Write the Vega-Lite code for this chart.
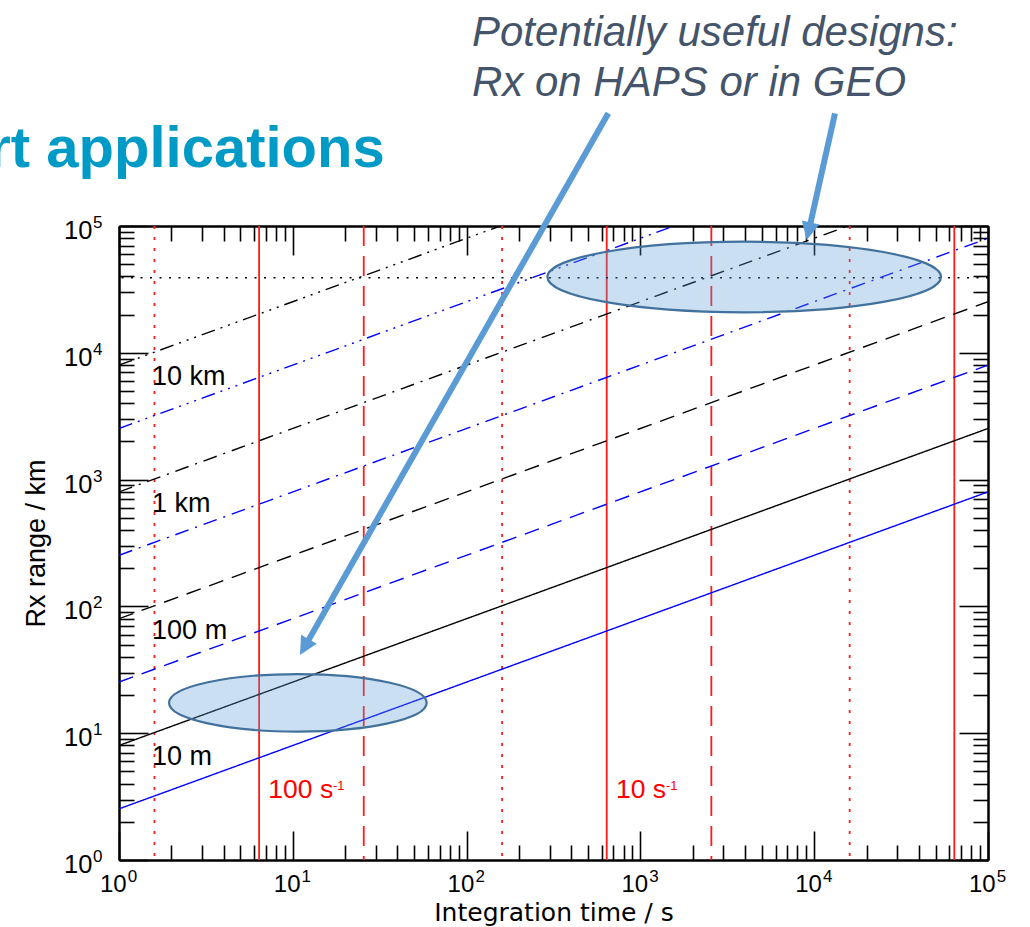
{
  "$schema": "https://vega.github.io/schema/vega-lite/v6.json",
  "width": 869,
  "height": 634,
  "autosize": {"type": "none"},
  "padding": {"left": 119, "top": 226, "right": 42, "bottom": 67},
  "background": "white",
  "config": {
    "view": {"stroke": null},
    "font": "Liberation Sans",
    "axis": {
      "labels": false,
      "grid": false,
      "domainColor": "#000000",
      "domainWidth": 2,
      "tickColor": "#000000",
      "tickWidth": 1.6,
      "minExtent": 0,
      "titleFont": "Liberation Sans",
      "titleFontSize": 27,
      "titleFontWeight": "normal",
      "titleColor": "#000000",
      "titleBaseline": "alphabetic"
    }
  },
  "resolve": {
    "axis": {"x": "independent", "y": "independent"},
    "scale": {"strokeDash": "independent"}
  },
  "datasets": {
    "rateMarks": [
      {"t": 1.6, "style": "dotted"},
      {"t": 6.4, "style": "solid"},
      {"t": 25.6, "style": "dashed"},
      {"t": 160, "style": "dotted"},
      {"t": 640, "style": "solid"},
      {"t": 2560, "style": "dashed"},
      {"t": 16000, "style": "dotted"},
      {"t": 64000, "style": "solid"}
    ],
    "geo": [{"r": 39000}],
    "rangeLines": [
      {"series": "10 m", "colour": "black", "style": "solid", "t": 1, "r": 8},
      {"series": "10 m", "colour": "black", "style": "solid", "t": 100000, "r": 2530},
      {"series": "10 m (blue)", "colour": "blue", "style": "solid", "t": 1, "r": 2.53},
      {"series": "10 m (blue)", "colour": "blue", "style": "solid", "t": 100000, "r": 800},
      {"series": "100 m", "colour": "black", "style": "dashed", "t": 1, "r": 80},
      {"series": "100 m", "colour": "black", "style": "dashed", "t": 100000, "r": 25300},
      {"series": "100 m (blue)", "colour": "blue", "style": "dashed", "t": 1, "r": 25.3},
      {"series": "100 m (blue)", "colour": "blue", "style": "dashed", "t": 100000, "r": 8000},
      {"series": "1 km", "colour": "black", "style": "dashdot", "t": 1, "r": 800},
      {"series": "1 km", "colour": "black", "style": "dashdot", "t": 15625, "r": 100000},
      {"series": "1 km (blue)", "colour": "blue", "style": "dashdot", "t": 1, "r": 253},
      {"series": "1 km (blue)", "colour": "blue", "style": "dashdot", "t": 100000, "r": 80000},
      {"series": "10 km", "colour": "black", "style": "dash3dot", "t": 1, "r": 8000},
      {"series": "10 km", "colour": "black", "style": "dash3dot", "t": 156.25, "r": 100000},
      {"series": "10 km (blue)", "colour": "blue", "style": "dash3dot", "t": 1, "r": 2530},
      {"series": "10 km (blue)", "colour": "blue", "style": "dash3dot", "t": 1562.5, "r": 100000}
    ],
    "lineLabels": [
      {"label": "10 km", "t": 1.55, "r": 5570},
      {"label": "1 km", "t": 1.55, "r": 557},
      {"label": "100 m", "t": 1.55, "r": 55.7},
      {"label": "10 m", "t": 1.55, "r": 5.57}
    ],
    "rateLabels": [
      {"label": "100 s", "t": 7.23, "r": 3.07},
      {"label": "10 s", "t": 724, "r": 3.07}
    ],
    "rateExponents": [
      {"label": "-1", "t": 17.03, "r": 3.57},
      {"label": "-1", "t": 1404, "r": 3.57}
    ],
    "haps": [{"t": 10.69, "r": 17.36}],
    "geoZone": [{"t": 3956, "r": 39620}],
    "arrowShafts": [
      {"t": 653.6, "r": 774300, "t2": 11.9, "r2": 49.96},
      {"t": 13170, "r": 774300, "t2": 9371, "r2": 95920}
    ],
    "arrowTipHaps": [{"t": 11.0, "r": 41.4}],
    "arrowTipGeo": [{"t": 9054, "r": 77550}],
    "decades": [
      {"p": 1, "e": "0"},
      {"p": 10, "e": "1"},
      {"p": 100, "e": "2"},
      {"p": 1000, "e": "3"},
      {"p": 10000, "e": "4"},
      {"p": 100000, "e": "5"}
    ],
    "note": [{"label": "Potentially useful designs:\nRx on HAPS or in GEO", "t": 107.4, "r": 2627000}],
    "heading": [{"label": "rt applications", "t": 0.177, "r": 292000}]
  },
  "layer": [
    {
      "data": {"name": "rateMarks"},
      "mark": {"type": "rule", "color": "#ff1a1a", "strokeWidth": 1.8, "clip": true},
      "encoding": {
        "x": {
          "field": "t", "type": "quantitative",
          "scale": {"type": "log", "domain": [1, 100000], "nice": false},
          "axis": {"orient": "bottom", "values": [1, 10, 100, 1000, 10000, 100000], "tickSize": -29, "title": "Integration time / s", "titleFont": "DejaVu Sans", "titleFontSize": 25, "titlePadding": 59.5}
        },
        "strokeDash": {
          "field": "style", "type": "nominal",
          "scale": {"domain": ["solid", "dashed", "dotted"], "range": [[1, 0], [20, 10], [3, 8]]},
          "legend": null
        }
      }
    },
    {
      "data": {"name": "geo"},
      "mark": {"type": "rule", "color": "#000000", "strokeWidth": 1.5, "strokeDash": [2, 7.5], "clip": true},
      "encoding": {
        "y": {
          "field": "r", "type": "quantitative",
          "scale": {"type": "log", "domain": [1, 100000], "nice": false},
          "axis": {"orient": "left", "values": [1, 10, 100, 1000, 10000, 100000], "tickSize": -29, "title": "Rx range / km", "titlePadding": 74}
        }
      }
    },
    {
      "data": {"name": "rangeLines"},
      "mark": {"type": "line", "strokeWidth": 1.4, "clip": true},
      "encoding": {
        "x": {
          "field": "t", "type": "quantitative",
          "scale": {"type": "log", "domain": [1, 100000], "nice": false},
          "axis": {"orient": "bottom", "values": [2, 3, 4, 5, 6, 7, 8, 9, 20, 30, 40, 50, 60, 70, 80, 90, 200, 300, 400, 500, 600, 700, 800, 900, 2000, 3000, 4000, 5000, 6000, 7000, 8000, 9000, 20000, 30000, 40000, 50000, 60000, 70000, 80000, 90000], "tickSize": -15, "title": null}
        },
        "y": {
          "field": "r", "type": "quantitative",
          "scale": {"type": "log", "domain": [1, 100000], "nice": false},
          "axis": {"orient": "left", "values": [2, 3, 4, 5, 6, 7, 8, 9, 20, 30, 40, 50, 60, 70, 80, 90, 200, 300, 400, 500, 600, 700, 800, 900, 2000, 3000, 4000, 5000, 6000, 7000, 8000, 9000, 20000, 30000, 40000, 50000, 60000, 70000, 80000, 90000], "tickSize": -15, "title": null}
        },
        "detail": {"field": "series", "type": "nominal"},
        "color": {
          "field": "colour", "type": "nominal",
          "scale": {"domain": ["black", "blue"], "range": ["#000000", "#0000ff"]},
          "legend": null
        },
        "strokeDash": {
          "field": "style", "type": "nominal",
          "scale": {"domain": ["solid", "dashed", "dashdot", "dash3dot"], "range": [[1, 0], [15, 9], [14, 7, 2, 7], [14, 6, 2, 6, 2, 6, 2, 6]]},
          "legend": null
        }
      }
    },
    {
      "data": {"name": "lineLabels"},
      "mark": {"type": "text", "align": "left", "baseline": "alphabetic", "fontSize": 27, "color": "#000000"},
      "encoding": {
        "x": {"field": "t", "type": "quantitative", "scale": {"type": "log", "domain": [1, 100000], "nice": false}, "axis": null},
        "y": {"field": "r", "type": "quantitative", "scale": {"type": "log", "domain": [1, 100000], "nice": false}, "axis": null},
        "text": {"field": "label", "type": "nominal"}
      }
    },
    {
      "data": {"name": "rateLabels"},
      "mark": {"type": "text", "align": "left", "baseline": "alphabetic", "fontSize": 26.5, "color": "#ff0000"},
      "encoding": {
        "x": {"field": "t", "type": "quantitative", "scale": {"type": "log", "domain": [1, 100000], "nice": false}, "axis": null},
        "y": {"field": "r", "type": "quantitative", "scale": {"type": "log", "domain": [1, 100000], "nice": false}, "axis": null},
        "text": {"field": "label", "type": "nominal"}
      }
    },
    {
      "data": {"name": "rateExponents"},
      "mark": {"type": "text", "align": "left", "baseline": "alphabetic", "fontSize": 13, "color": "#ff0000"},
      "encoding": {
        "x": {"field": "t", "type": "quantitative", "scale": {"type": "log", "domain": [1, 100000], "nice": false}, "axis": null},
        "y": {"field": "r", "type": "quantitative", "scale": {"type": "log", "domain": [1, 100000], "nice": false}, "axis": null},
        "text": {"field": "label", "type": "nominal"}
      }
    },
    {
      "data": {"name": "haps"},
      "mark": {
        "type": "point",
        "shape": "M-1,0C-1,-0.1235,-0.5523,-0.2236,0,-0.2236C0.5523,-0.2236,1,-0.1235,1,0C1,0.1235,0.5523,0.2236,0,0.2236C-0.5523,0.2236,-1,0.1235,-1,0Z",
        "size": 66358,
        "filled": true,
        "fill": "#5B9BD5",
        "fillOpacity": 0.32,
        "stroke": "#41719C",
        "strokeWidth": 2.2,
        "opacity": 1
      },
      "encoding": {
        "x": {
          "field": "t", "type": "quantitative",
          "scale": {"type": "log", "domain": [1, 100000], "nice": false},
          "axis": {"orient": "top", "values": [1, 10, 100, 1000, 10000, 100000], "tickSize": -29, "title": null}
        },
        "y": {
          "field": "r", "type": "quantitative",
          "scale": {"type": "log", "domain": [1, 100000], "nice": false},
          "axis": {"orient": "right", "values": [1, 10, 100, 1000, 10000, 100000], "tickSize": -29, "title": null}
        }
      }
    },
    {
      "data": {"name": "geoZone"},
      "mark": {
        "type": "point",
        "shape": "M-1,0C-1,-0.0991,-0.5523,-0.1794,0,-0.1794C0.5523,-0.1794,1,-0.0991,1,0C1,0.0991,0.5523,0.1794,0,0.1794C-0.5523,0.1794,-1,0.0991,-1,0Z",
        "size": 154921,
        "filled": true,
        "fill": "#5B9BD5",
        "fillOpacity": 0.32,
        "stroke": "#41719C",
        "strokeWidth": 2.2,
        "opacity": 1
      },
      "encoding": {
        "x": {
          "field": "t", "type": "quantitative",
          "scale": {"type": "log", "domain": [1, 100000], "nice": false},
          "axis": {"orient": "top", "values": [2, 3, 4, 5, 6, 7, 8, 9, 20, 30, 40, 50, 60, 70, 80, 90, 200, 300, 400, 500, 600, 700, 800, 900, 2000, 3000, 4000, 5000, 6000, 7000, 8000, 9000, 20000, 30000, 40000, 50000, 60000, 70000, 80000, 90000], "tickSize": -15, "title": null}
        },
        "y": {
          "field": "r", "type": "quantitative",
          "scale": {"type": "log", "domain": [1, 100000], "nice": false},
          "axis": {"orient": "right", "values": [2, 3, 4, 5, 6, 7, 8, 9, 20, 30, 40, 50, 60, 70, 80, 90, 200, 300, 400, 500, 600, 700, 800, 900, 2000, 3000, 4000, 5000, 6000, 7000, 8000, 9000, 20000, 30000, 40000, 50000, 60000, 70000, 80000, 90000], "tickSize": -15, "title": null}
        }
      }
    },
    {
      "data": {"name": "arrowShafts"},
      "mark": {"type": "rule", "color": "#5B9BD5", "strokeWidth": 6, "strokeCap": "butt"},
      "encoding": {
        "x": {"field": "t", "type": "quantitative", "scale": {"type": "log", "domain": [1, 100000], "nice": false}, "axis": null},
        "y": {"field": "r", "type": "quantitative", "scale": {"type": "log", "domain": [1, 100000], "nice": false}, "axis": null},
        "x2": {"field": "t2"},
        "y2": {"field": "r2"}
      }
    },
    {
      "data": {"name": "arrowTipHaps"},
      "mark": {"type": "point", "shape": "M0,0L0.5,1L-0.5,1Z", "size": 1296, "angle": 209.6, "filled": true, "color": "#5B9BD5", "opacity": 1},
      "encoding": {
        "x": {"field": "t", "type": "quantitative", "scale": {"type": "log", "domain": [1, 100000], "nice": false}, "axis": null},
        "y": {"field": "r", "type": "quantitative", "scale": {"type": "log", "domain": [1, 100000], "nice": false}, "axis": null}
      }
    },
    {
      "data": {"name": "arrowTipGeo"},
      "mark": {"type": "point", "shape": "M0,0L0.5,1L-0.5,1Z", "size": 1296, "angle": 192.6, "filled": true, "color": "#5B9BD5", "opacity": 1},
      "encoding": {
        "x": {"field": "t", "type": "quantitative", "scale": {"type": "log", "domain": [1, 100000], "nice": false}, "axis": null},
        "y": {"field": "r", "type": "quantitative", "scale": {"type": "log", "domain": [1, 100000], "nice": false}, "axis": null}
      }
    },
    {
      "data": {"name": "decades"},
      "mark": {"type": "text", "text": "10", "align": "left", "baseline": "alphabetic", "fontSize": 24, "dx": -19, "dy": 32, "color": "#000000"},
      "encoding": {
        "x": {"field": "p", "type": "quantitative", "scale": {"type": "log", "domain": [1, 100000], "nice": false}, "axis": null},
        "y": {"datum": 1, "type": "quantitative", "scale": {"type": "log", "domain": [1, 100000], "nice": false}, "axis": null}
      }
    },
    {
      "data": {"name": "decades"},
      "mark": {"type": "text", "align": "left", "baseline": "alphabetic", "fontSize": 17, "dx": 8.8, "dy": 21.5, "color": "#000000"},
      "encoding": {
        "x": {"field": "p", "type": "quantitative", "scale": {"type": "log", "domain": [1, 100000], "nice": false}, "axis": null},
        "y": {"datum": 1, "type": "quantitative", "scale": {"type": "log", "domain": [1, 100000], "nice": false}, "axis": null},
        "text": {"field": "e", "type": "nominal"}
      }
    },
    {
      "data": {"name": "decades"},
      "mark": {"type": "text", "text": "10", "align": "left", "baseline": "alphabetic", "fontSize": 25.5, "dx": -55, "dy": 13, "color": "#000000"},
      "encoding": {
        "x": {"datum": 1, "type": "quantitative", "scale": {"type": "log", "domain": [1, 100000], "nice": false}, "axis": null},
        "y": {"field": "p", "type": "quantitative", "scale": {"type": "log", "domain": [1, 100000], "nice": false}, "axis": null}
      }
    },
    {
      "data": {"name": "decades"},
      "mark": {"type": "text", "align": "left", "baseline": "alphabetic", "fontSize": 17, "dx": -26, "dy": 2, "color": "#000000"},
      "encoding": {
        "x": {"datum": 1, "type": "quantitative", "scale": {"type": "log", "domain": [1, 100000], "nice": false}, "axis": null},
        "y": {"field": "p", "type": "quantitative", "scale": {"type": "log", "domain": [1, 100000], "nice": false}, "axis": null},
        "text": {"field": "e", "type": "nominal"}
      }
    },
    {
      "data": {"name": "note"},
      "mark": {"type": "text", "align": "left", "baseline": "alphabetic", "fontSize": 42, "fontStyle": "italic", "lineBreak": "\n", "lineHeight": 50, "color": "#44546A"},
      "encoding": {
        "x": {"field": "t", "type": "quantitative", "scale": {"type": "log", "domain": [1, 100000], "nice": false}, "axis": null},
        "y": {"field": "r", "type": "quantitative", "scale": {"type": "log", "domain": [1, 100000], "nice": false}, "axis": null},
        "text": {"field": "label", "type": "nominal"}
      }
    },
    {
      "data": {"name": "heading"},
      "mark": {"type": "text", "align": "left", "baseline": "alphabetic", "fontSize": 58, "fontWeight": "bold", "color": "#009AC7"},
      "encoding": {
        "x": {"field": "t", "type": "quantitative", "scale": {"type": "log", "domain": [1, 100000], "nice": false}, "axis": null},
        "y": {"field": "r", "type": "quantitative", "scale": {"type": "log", "domain": [1, 100000], "nice": false}, "axis": null},
        "text": {"field": "label", "type": "nominal"}
      }
    }
  ]
}
